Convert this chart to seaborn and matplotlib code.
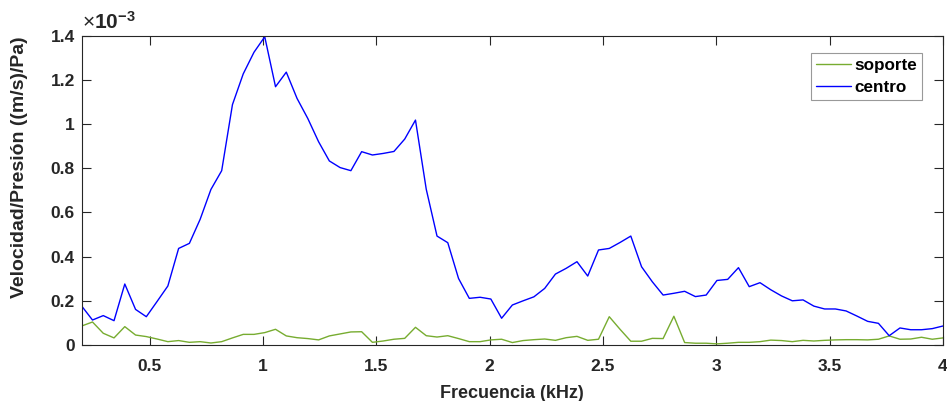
import numpy as np
import pandas as pd
import matplotlib
matplotlib.use("Agg")
import matplotlib.pyplot as plt
import seaborn as sns
from matplotlib.ticker import FuncFormatter, MultipleLocator

# Frecuencia (kHz), 81 muestras entre 0.2 y 4
frecuencia = np.linspace(0.2, 4.0, 81)

# Respuesta en unidades de 1e-3 (m/s)/Pa
centro = [
    0.176, 0.113, 0.133, 0.110, 0.276, 0.161, 0.128, 0.197, 0.267, 0.437,
    0.460, 0.569, 0.704, 0.789, 1.088, 1.227, 1.325, 1.395, 1.169, 1.235,
    1.116, 1.025, 0.920, 0.833, 0.803, 0.789, 0.875, 0.860, 0.867, 0.876,
    0.932, 1.018, 0.705, 0.493, 0.463, 0.301, 0.211, 0.216, 0.208, 0.121,
    0.181, 0.200, 0.218, 0.256, 0.321, 0.347, 0.377, 0.312, 0.430, 0.437,
    0.464, 0.493, 0.354, 0.286, 0.226, 0.234, 0.243, 0.219, 0.226, 0.292,
    0.297, 0.350, 0.264, 0.282, 0.250, 0.222, 0.200, 0.204, 0.176, 0.163,
    0.163, 0.154, 0.131, 0.107, 0.098, 0.042, 0.077, 0.069, 0.069, 0.074,
    0.086,
]
soporte = [
    0.086, 0.104, 0.053, 0.032, 0.083, 0.045, 0.038, 0.027, 0.015, 0.020,
    0.012, 0.015, 0.009, 0.015, 0.032, 0.048, 0.048, 0.056, 0.071, 0.041,
    0.033, 0.029, 0.023, 0.041, 0.050, 0.059, 0.060, 0.012, 0.018, 0.026,
    0.030, 0.080, 0.042, 0.036, 0.042, 0.029, 0.015, 0.015, 0.023, 0.026,
    0.011, 0.020, 0.024, 0.027, 0.021, 0.033, 0.039, 0.021, 0.026, 0.128,
    0.071, 0.017, 0.017, 0.030, 0.029, 0.130, 0.011, 0.008, 0.008, 0.005,
    0.008, 0.012, 0.012, 0.015, 0.022, 0.020, 0.015, 0.021, 0.018, 0.021,
    0.023, 0.024, 0.024, 0.023, 0.026, 0.041, 0.026, 0.027, 0.035, 0.026,
    0.032,
]

series = ["soporte", "centro"]
colores = {"soporte": "#77AC30", "centro": "#0000FF"}

df = pd.concat([
    pd.DataFrame({"frecuencia": frecuencia, "valor": soporte, "serie": "soporte"}),
    pd.DataFrame({"frecuencia": frecuencia, "valor": centro, "serie": "centro"}),
])

sns.set_style("ticks")
plt.rcParams["font.family"] = ["Liberation Sans", "DejaVu Sans"]
plt.rcParams["mathtext.fontset"] = "custom"
plt.rcParams["mathtext.rm"] = "Liberation Sans"
plt.rcParams["mathtext.bf"] = "Liberation Sans:bold"

gris = "#262626"

fig = plt.figure(figsize=(9.47, 4.01), dpi=100)
ax = fig.add_axes([0.0863, 0.1397, 0.9095, 0.7713])

sns.lineplot(data=df, x="frecuencia", y="valor", hue="serie", hue_order=series,
             palette=colores, linewidth=1.0, ax=ax, legend=True)

ax.set_xlim(0.2, 4)
ax.set_ylim(0, 1.4)
ax.xaxis.set_major_locator(MultipleLocator(0.5))
ax.yaxis.set_major_locator(MultipleLocator(0.2))
fmt = FuncFormatter(lambda v, p: f"{v:g}")
ax.xaxis.set_major_formatter(fmt)
ax.yaxis.set_major_formatter(fmt)

ax.tick_params(direction="in", length=6.5, width=0.8, color=gris,
               labelsize=12.5, labelcolor=gris, top=True, right=True)
ax.tick_params(axis="x", pad=10)
ax.tick_params(axis="y", pad=5)
for lbl in ax.get_xticklabels() + ax.get_yticklabels():
    lbl.set_fontweight("bold")
for s in ax.spines.values():
    s.set_visible(True)
    s.set_color(gris)
    s.set_linewidth(0.8)

ax.set_xlabel("Frecuencia (kHz)", fontsize=13, fontweight="bold", color=gris, labelpad=8)
ax.set_ylabel("Velocidad/Presión ((m/s)/Pa)", fontsize=14, fontweight="bold", color=gris)
ax.yaxis.set_label_coords(-0.062, 0.574)

ax.text(0.0, 1.01, r"$\times\mathbf{10^{-3}}$", transform=ax.transAxes,
        fontsize=15, color=gris, ha="left", va="bottom")

leg = ax.legend(loc="upper right", bbox_to_anchor=(0.976, 0.945), borderaxespad=0,
                frameon=True, fancybox=False, edgecolor="#999999", framealpha=1,
                prop={"weight": "bold", "size": 12.3}, handlelength=2.05,
                handletextpad=0.2, borderpad=0.3, labelspacing=0.4)
leg.get_frame().set_linewidth(0.8)
for t in leg.get_texts():
    t.set_color("black")

fig.savefig("out.png", dpi=100)
